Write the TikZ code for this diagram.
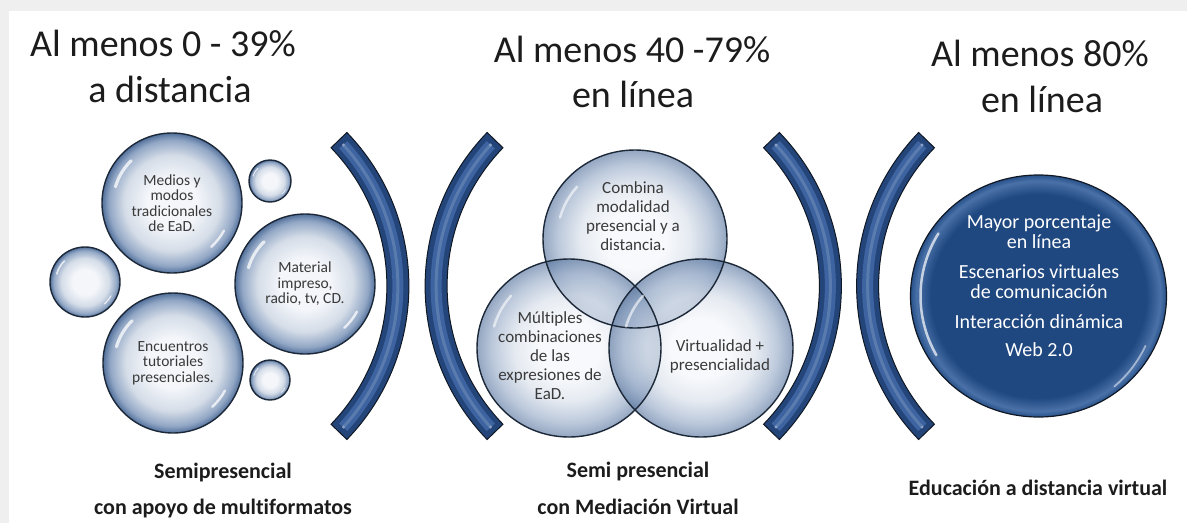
\documentclass[tikz,border=0pt]{standalone}
\usepackage{fontspec}
\setmainfont{Carlito}[Ligatures=NoCommon]
\usetikzlibrary{shapes.geometric}
\definecolor{bubC}{HTML}{F4F6FA}
\definecolor{bubM}{HTML}{D5DDE8}
\definecolor{bubE}{HTML}{92A7C5}
\definecolor{bubR}{HTML}{52709B}
\definecolor{bubline}{HTML}{1C2838}
\definecolor{bandfill}{HTML}{24457A}
\definecolor{bandlight}{HTML}{3D64A0}
\definecolor{bandline}{HTML}{101824}
\definecolor{darkC}{HTML}{1F4780}
\definecolor{darkE}{HTML}{4A72A8}
\definecolor{darkR}{HTML}{28508A}
\definecolor{txtgray}{HTML}{3A3A3A}
\definecolor{titlecol}{HTML}{1C1C1C}
\definecolor{framegray}{HTML}{EFEFEF}
\pgfdeclareradialshading{bubble}{\pgfpoint{0bp}{0bp}}{color(0bp)=(bubC); color(9bp)=(bubC); color(17bp)=(bubM); color(22.5bp)=(bubE); color(25bp)=(bubR); color(50bp)=(bubR)}
\pgfdeclareradialshading{vennball}{\pgfpoint{0bp}{0bp}}{color(0bp)=(bubC); color(8bp)=(bubC); color(15bp)=(bubM); color(21bp)=(bubE); color(25bp)=(bubR); color(50bp)=(bubR)}
\pgfdeclareradialshading{darkball}{\pgfpoint{0bp}{0bp}}{color(0bp)=(darkC); color(21bp)=(darkC); color(23.8bp)=(darkE); color(25bp)=(darkR); color(50bp)=(darkR)}
\begin{document}
\begin{tikzpicture}[x=1pt,y=-1pt,
  bub/.style={circle, draw=bubline, line width=1.4pt, shading=bubble, inner sep=0pt, align=center, text=txtgray, font=\fontsize{15.5}{15.5}\selectfont},
  vennfill/.style={ellipse, shading=vennball, fill opacity=0.62, minimum width=184pt, minimum height=178pt, inner sep=0pt},
  vtxt/.style={align=center, text=txtgray, font=\fontsize{17}{19}\selectfont},
  ttl/.style={anchor=base, text=titlecol, inner sep=0pt, font=\fontsize{38}{46}\selectfont},
  lbl/.style={anchor=base, text=titlecol, inner sep=0pt, font=\fontsize{22}{26}\selectfont\bfseries},
  glint/.style={white, opacity=0.75, line cap=round},
  bandedge/.style={draw=bandline, line width=1pt, fill=bandfill}]
\useasboundingbox (0,0) rectangle (1187,523);
\fill[framegray] (0,0) rectangle (1187,11);
\fill[framegray] (0,0) rectangle (9,523);

% brackets
\foreach \cx/\s in {187.9/0, 646.1/180, 620.4/0, 1077.6/180}{
  \pgfmathsetmacro\a{\s-44}
  \pgfmathsetmacro\b{\s+44}
  \pgfmathsetmacro\aa{\s-42.3}
  \pgfmathsetmacro\bb{\s+42.3}
  \path[bandedge] ([shift={(\a:221)}]\cx,286) arc[start angle=\a, end angle=\b, radius=221]
     -- ([shift={(\b:199)}]\cx,286) arc[start angle=\b, end angle=\a, radius=199] -- cycle;
  \draw[bandlight, line width=11pt] ([shift={(\aa:210)}]\cx,286) arc[start angle=\aa, end angle=\bb, radius=210];
  \draw[bandlight!70!white, line width=3pt, opacity=0.5] ([shift={(\aa:210)}]\cx,286) arc[start angle=\aa, end angle=\bb, radius=210];
  \fill[bandlight!60!white] ([shift={(\a+1.8:210)}]\cx,286) circle[radius=1.6];
  \fill[bandlight!60!white] ([shift={(\b-1.8:210)}]\cx,286) circle[radius=1.6];
}

% left group of bubbles
\node[bub, minimum size=140pt] (med) at (172,203) {Medios y\\modos\\tradicionales\\de EaD.};
\node[bub, minimum size=140pt] (mat) at (305,284) {Material\\impreso,\\radio, tv, CD.};
\node[bub, minimum size=140pt] (enc) at (173,363) {Encuentros\\tutoriales\\presenciales.};
\node[bub, minimum size=42pt] (s1) at (270,181) {};
\node[bub, minimum size=40pt] (s2) at (270,380) {};
\node[bub, minimum size=70pt] (mid) at (85,282) {};
\foreach \n/\r in {med/70,mat/70,enc/70,s1/21,s2/20,mid/35}{
  \draw[glint, line width={0.045*\r}] ([shift={(196:{0.84*\r})}]\n.center) arc[start angle=196, end angle=226, radius={0.84*\r}];
  \draw[glint, line width={0.035*\r}] ([shift={(28:{0.84*\r})}]\n.center) arc[start angle=28, end angle=48, radius={0.84*\r}];
}

% Venn diagram
\node[vennfill] (vtop) at (635,239) {};
\node[vennfill] (vleft) at (569,348) {};
\node[vennfill] (vright) at (701,348) {};
\foreach \n in {vtop,vleft,vright}{
  \draw[bubline, line width=1.4pt] (\n.center) ellipse[x radius=92, y radius=89];
  \draw[glint, line width=2.5pt, opacity=0.6] ([shift={(196:78)}]\n.center) arc[start angle=196, end angle=222, radius=78];
}
\node[vtxt] (tcomb) at (633,216.5) {Combina\\modalidad\\presencial y a\\distancia.};
\node[vtxt] (tmult) at (550,356) {Múltiples\\combinaciones\\de las\\expresiones de\\EaD.};
\node[vtxt] (tvirt) at (720,356) {Virtualidad +\\presencialidad};

% dark circle
\node[ellipse, shading=darkball, draw=bandline, line width=1.2pt, minimum width=256pt, minimum height=242pt, inner sep=0pt] (dark) at (1038.5,296) {};
\draw[glint, line width=2.5pt, opacity=0.7] ([shift={(150:118)}]dark.center) arc[start angle=150, end angle=212, radius=118];
\draw[glint, line width=1.8pt, opacity=0.5] ([shift={(25:118)}]dark.center) arc[start angle=25, end angle=50, radius=118];
\node[align=center, text=white, font=\fontsize{20}{20}\selectfont] (dtxt) at (1039,286)
  {Mayor porcentaje\\en línea\\[10pt]Escenarios virtuales\\de comunicación\\[10pt]Interacción dinámica\\[8pt]Web 2.0};

% titles
\node[ttl] (t1a) at (163,56) {Al menos 0 - 39\%};
\node[ttl] (t1b) at (170,102) {a distancia};
\node[ttl] (t2a) at (632,62) {Al menos 40 -79\%};
\node[ttl] (t2b) at (633,107) {en línea};
\node[ttl] (t3a) at (1040,66) {Al menos 80\%};
\node[ttl] (t3b) at (1042,112) {en línea};

% bottom labels
\node[lbl] (b1a) at (223,478) {Semipresencial};
\node[lbl] (b1b) at (223,514) {con apoyo de multiformatos};
\node[lbl] (b2a) at (638,477) {Semi presencial};
\node[lbl] (b2b) at (638,514) {con Mediación Virtual};
\node[lbl] (b3) at (1038,495) {Educación a distancia virtual};
\end{tikzpicture}
\end{document}
